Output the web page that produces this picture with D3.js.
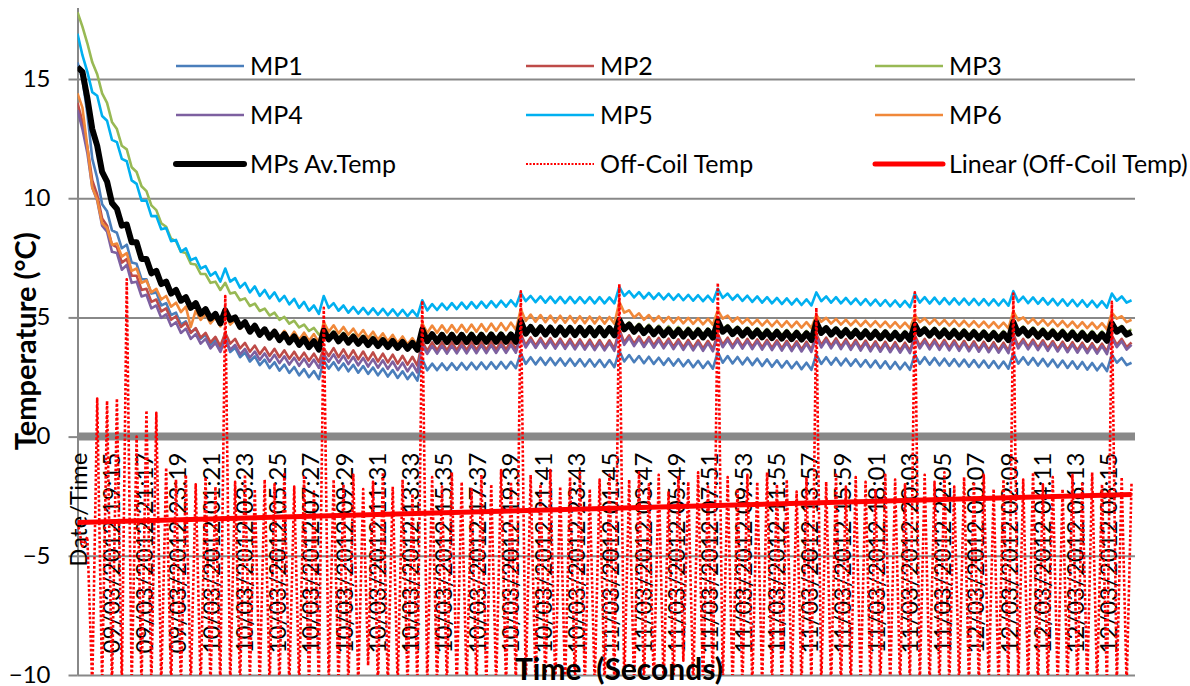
<!DOCTYPE html>
<html>
<head>
<meta charset="utf-8">
<script src="https://cdn.jsdelivr.net/npm/d3@7"></script>
<style>
body { margin: 0; background: #fff; }
text { font-family: Lato, "Noto Sans", sans-serif; fill: #000; }
</style>
</head>
<body>
<div id="chart"></div>
<script>
// category labels on the time axis
const xLabels = ["Date/Time",
  "09/03/2012 19:15", "09/03/2012 21:17", "09/03/2012 23:19", "10/03/2012 01:21", "10/03/2012 03:23",
  "10/03/2012 05:25", "10/03/2012 07:27", "10/03/2012 09:29", "10/03/2012 11:31", "10/03/2012 13:33",
  "10/03/2012 15:35", "10/03/2012 17:37", "10/03/2012 19:39", "10/03/2012 21:41", "10/03/2012 23:43",
  "11/03/2012 01:45", "11/03/2012 03:47", "11/03/2012 05:49", "11/03/2012 07:51", "11/03/2012 09:53",
  "11/03/2012 11:55", "11/03/2012 13:57", "11/03/2012 15:59", "11/03/2012 18:01", "11/03/2012 20:03",
  "11/03/2012 22:05", "12/03/2012 00:07", "12/03/2012 02:09", "12/03/2012 04:11", "12/03/2012 06:13",
  "12/03/2012 08:15"];
const labelEvery = 6.75; // samples between two category labels
const yTicks = [-10, -5, 0, 5, 10, 15];
const yMin = -10, yMax = 18;

const mp1 = [15.7, 15.0, 13.55, 11.65, 10.85, 9.75, 9.45, 8.65, 8.55, 7.9,
  8.05, 7.3, 7.25, 6.6, 6.6, 6.0, 6.05, 5.5, 5.6, 5.1, 5.2, 4.7, 4.83, 4.37, 4.53, 4.1, 4.27, 3.85, 4.05, 3.65,
  4.1, 3.55, 3.73, 3.33, 3.53, 3.15, 3.37, 3.0, 3.23, 2.87, 3.12, 2.77, 3.02, 2.67, 2.92, 2.57, 2.83, 2.49, 2.75, 2.41,
  3.2, 2.85, 3.12, 2.79, 3.07, 2.74, 3.01, 2.68, 2.96, 2.63, 2.9, 2.57, 2.85, 2.52, 2.79, 2.46, 2.74, 2.41, 2.68, 2.35,
  3.25, 2.78, 3.06, 2.79, 3.07, 2.8, 3.08, 2.81, 3.09, 2.82, 3.1, 2.83, 3.11, 2.84, 3.12, 2.85, 3.13, 2.86, 3.14, 2.87,
  3.5, 3.05, 3.33, 3.03, 3.31, 3.01, 3.3, 3.0, 3.28, 2.98, 3.27, 2.97, 3.25, 2.95, 3.24, 2.94, 3.22, 2.92, 3.21, 2.91,
  3.6, 3.15, 3.42, 3.12, 3.38, 3.08, 3.35, 3.05, 3.31, 3.01, 3.28, 2.98, 3.25, 2.95, 3.21, 2.91, 3.18, 2.88, 3.15, 2.85,
  3.55, 3.1, 3.38, 3.07, 3.34, 3.03, 3.31, 3.0, 3.27, 2.96, 3.24, 2.93, 3.2, 2.9, 3.17, 2.87, 3.13, 2.83, 3.1, 2.8,
  3.45, 3.05, 3.33, 3.02, 3.3, 2.99, 3.27, 2.97, 3.24, 2.94, 3.21, 2.91, 3.19, 2.88, 3.16, 2.85, 3.13, 2.83, 3.1, 2.8,
  3.45, 3.05, 3.33, 3.02, 3.3, 2.99, 3.27, 2.97, 3.25, 2.95, 3.23, 2.93, 3.21, 2.91, 3.19, 2.89, 3.17, 2.87, 3.15, 2.85,
  3.5, 3.06, 3.33, 3.02, 3.3, 2.98, 3.26, 2.95, 3.23, 2.91, 3.19, 2.88, 3.16, 2.85, 3.13, 2.81, 3.09, 2.78, 3.06, 2.75,
  3.45, 3.1, 3.3, 3.0, 3.1];

const mp2 = [14.0, 13.2, 12.15, 10.75, 10.15, 9.15, 8.85, 8.05, 7.95, 7.3,
  7.45, 6.75, 6.75, 6.15, 6.2, 5.65, 5.75, 5.25, 5.38, 4.9, 5.05, 4.6, 4.78, 4.35, 4.55, 4.15, 4.35, 3.95, 4.18, 3.8,
  4.35, 3.9, 4.1, 3.7, 3.93, 3.56, 3.82, 3.46, 3.74, 3.39, 3.68, 3.33, 3.62, 3.27, 3.56, 3.22, 3.52, 3.18, 3.48, 3.13,
  3.7, 3.38, 3.71, 3.33, 3.66, 3.29, 3.62, 3.24, 3.57, 3.2, 3.53, 3.15, 3.48, 3.11, 3.44, 3.06, 3.39, 3.02, 3.35, 2.98,
  4.0, 3.6, 3.95, 3.62, 3.96, 3.62, 3.97, 3.63, 3.97, 3.63, 3.98, 3.64, 3.98, 3.64, 3.99, 3.65, 3.99, 3.65, 4.0, 3.66,
  4.3, 3.83, 4.16, 3.81, 4.14, 3.8, 4.13, 3.78, 4.11, 3.77, 4.1, 3.75, 4.08, 3.74, 4.07, 3.72, 4.05, 3.71, 4.04, 3.69,
  4.5, 3.95, 4.25, 3.9, 4.2, 3.86, 4.17, 3.83, 4.14, 3.8, 4.11, 3.77, 4.08, 3.74, 4.06, 3.72, 4.04, 3.7, 4.02, 3.68,
  4.3, 3.85, 4.15, 3.8, 4.12, 3.78, 4.1, 3.76, 4.08, 3.74, 4.06, 3.72, 4.04, 3.7, 4.02, 3.68, 4.0, 3.66, 3.98, 3.64,
  4.3, 3.84, 4.15, 3.8, 4.12, 3.77, 4.09, 3.74, 4.06, 3.71, 4.03, 3.68, 4.0, 3.66, 3.98, 3.64, 3.96, 3.62, 3.94, 3.6,
  4.25, 3.8, 4.1, 3.76, 4.08, 3.74, 4.06, 3.72, 4.04, 3.7, 4.02, 3.68, 4.0, 3.66, 3.98, 3.64, 3.96, 3.62, 3.94, 3.6,
  4.3, 3.8, 4.1, 3.76, 4.07, 3.73, 4.04, 3.7, 4.01, 3.67, 3.98, 3.64, 3.96, 3.62, 3.94, 3.6, 3.92, 3.58, 3.9, 3.56,
  4.25, 3.85, 4.1, 3.75, 3.95];

const mp3 = [17.8, 17.2, 16.5, 15.7, 15.2, 14.4, 14.0, 13.2, 12.9, 12.2,
  12.05, 11.3, 11.1, 10.5, 10.3, 9.7, 9.5, 8.95, 8.8, 8.3, 8.2, 7.75, 7.7, 7.25, 7.22, 6.82, 6.82, 6.45, 6.5, 6.15,
  6.45, 6.0, 6.05, 5.72, 5.8, 5.48, 5.58, 5.27, 5.37, 5.08, 5.2, 4.9, 5.02, 4.74, 4.86, 4.58, 4.7, 4.43, 4.56, 4.28,
  4.4, 4.2, 4.42, 4.14, 4.36, 4.08, 4.3, 4.02, 4.24, 3.97, 4.19, 3.92, 4.14, 3.87, 4.09, 3.82, 4.04, 3.77, 3.99, 3.73,
  4.55, 4.12, 4.34, 4.1, 4.35, 4.09, 4.36, 4.1, 4.35, 4.11, 4.37, 4.1, 4.36, 4.11, 4.37, 4.12, 4.38, 4.12, 4.38, 4.12,
  4.9, 4.45, 4.68, 4.43, 4.67, 4.42, 4.66, 4.41, 4.66, 4.41, 4.65, 4.4, 4.65, 4.4, 4.64, 4.39, 4.64, 4.39, 4.63, 4.38,
  4.95, 4.6, 4.8, 4.52, 4.74, 4.47, 4.7, 4.43, 4.66, 4.39, 4.63, 4.36, 4.6, 4.33, 4.58, 4.31, 4.56, 4.29, 4.54, 4.27,
  4.9, 4.5, 4.68, 4.42, 4.62, 4.37, 4.58, 4.33, 4.55, 4.3, 4.52, 4.27, 4.5, 4.25, 4.48, 4.23, 4.46, 4.21, 4.44, 4.19,
  4.85, 4.45, 4.63, 4.38, 4.59, 4.34, 4.56, 4.31, 4.53, 4.28, 4.51, 4.26, 4.49, 4.24, 4.47, 4.22, 4.45, 4.2, 4.43, 4.18,
  4.8, 4.4, 4.6, 4.35, 4.57, 4.32, 4.55, 4.3, 4.53, 4.28, 4.51, 4.26, 4.49, 4.24, 4.47, 4.22, 4.45, 4.2, 4.43, 4.18,
  4.85, 4.42, 4.62, 4.36, 4.58, 4.32, 4.55, 4.29, 4.52, 4.26, 4.5, 4.24, 4.48, 4.22, 4.46, 4.2, 4.44, 4.18, 4.42, 4.16,
  4.8, 4.5, 4.65, 4.38, 4.5];

const mp4 = [13.7, 12.9, 11.9, 10.45, 9.9, 8.85, 8.6, 7.75, 7.7, 7.0,
  7.2, 6.45, 6.5, 5.88, 5.95, 5.38, 5.5, 4.98, 5.13, 4.64, 4.8, 4.35, 4.53, 4.1, 4.3, 3.9, 4.1, 3.7, 3.93, 3.55,
  4.1, 3.65, 3.85, 3.45, 3.68, 3.31, 3.57, 3.22, 3.49, 3.14, 3.43, 3.08, 3.37, 3.02, 3.31, 2.97, 3.27, 2.93, 3.23, 2.88,
  3.45, 3.14, 3.45, 3.09, 3.4, 3.04, 3.35, 2.99, 3.3, 2.94, 3.25, 2.89, 3.2, 2.84, 3.15, 2.79, 3.1, 2.74, 3.05, 2.69,
  3.85, 3.47, 3.8, 3.48, 3.81, 3.48, 3.81, 3.49, 3.82, 3.49, 3.82, 3.5, 3.83, 3.5, 3.83, 3.51, 3.84, 3.51, 3.84, 3.52,
  4.2, 3.74, 4.05, 3.72, 4.04, 3.71, 4.02, 3.69, 4.01, 3.68, 3.99, 3.66, 3.98, 3.65, 3.96, 3.63, 3.95, 3.62, 3.93, 3.6,
  4.4, 3.85, 4.15, 3.8, 4.1, 3.76, 4.07, 3.73, 4.04, 3.7, 4.01, 3.67, 3.98, 3.64, 3.96, 3.62, 3.94, 3.6, 3.92, 3.58,
  4.2, 3.75, 4.05, 3.71, 4.03, 3.69, 4.01, 3.67, 3.99, 3.65, 3.97, 3.63, 3.95, 3.61, 3.93, 3.59, 3.91, 3.57, 3.89, 3.55,
  4.2, 3.74, 4.05, 3.7, 4.02, 3.67, 3.99, 3.64, 3.96, 3.61, 3.93, 3.58, 3.9, 3.56, 3.88, 3.54, 3.86, 3.52, 3.84, 3.5,
  4.15, 3.7, 4.0, 3.66, 3.98, 3.64, 3.96, 3.62, 3.94, 3.6, 3.92, 3.58, 3.9, 3.56, 3.88, 3.54, 3.86, 3.52, 3.84, 3.5,
  4.2, 3.7, 4.0, 3.66, 3.97, 3.63, 3.94, 3.6, 3.91, 3.57, 3.88, 3.54, 3.86, 3.52, 3.84, 3.5, 3.82, 3.48, 3.8, 3.46,
  4.15, 3.75, 4.0, 3.65, 3.85];

const mp5 = [16.9, 16.0, 15.3, 14.45, 14.3, 13.45, 13.25, 12.45, 12.35, 11.65,
  11.55, 10.75, 10.6, 9.9, 9.9, 9.25, 9.25, 8.7, 8.75, 8.2, 8.25, 7.75, 7.9, 7.4, 7.5, 7.05, 7.15, 6.75, 6.9, 6.5,
  7.05, 6.5, 6.65, 6.25, 6.45, 6.05, 6.3, 5.9, 6.15, 5.8, 6.05, 5.68, 5.9, 5.55, 5.78, 5.4, 5.65, 5.28, 5.5, 5.15,
  5.9, 5.4, 5.6, 5.28, 5.5, 5.2, 5.44, 5.16, 5.4, 5.13, 5.38, 5.11, 5.36, 5.09, 5.34, 5.07, 5.32, 5.05, 5.3, 5.04,
  5.72, 5.29, 5.56, 5.31, 5.58, 5.33, 5.6, 5.35, 5.62, 5.37, 5.64, 5.39, 5.66, 5.41, 5.68, 5.43, 5.7, 5.45, 5.72, 5.47,
  6.03, 5.68, 5.9, 5.64, 5.88, 5.62, 5.87, 5.61, 5.86, 5.6, 5.86, 5.6, 5.85, 5.6, 5.85, 5.59, 5.85, 5.59, 5.84, 5.59,
  6.28, 5.9, 6.1, 5.84, 6.06, 5.8, 6.03, 5.78, 6.01, 5.76, 5.99, 5.74, 5.97, 5.72, 5.95, 5.7, 5.93, 5.68, 5.91, 5.66,
  6.2, 5.82, 6.0, 5.74, 5.95, 5.69, 5.91, 5.65, 5.88, 5.62, 5.85, 5.59, 5.82, 5.56, 5.8, 5.54, 5.78, 5.52, 5.76, 5.5,
  6.05, 5.68, 5.88, 5.62, 5.85, 5.59, 5.82, 5.56, 5.79, 5.53, 5.77, 5.51, 5.75, 5.49, 5.73, 5.47, 5.71, 5.45, 5.69, 5.43,
  6.0, 5.62, 5.85, 5.58, 5.83, 5.56, 5.81, 5.55, 5.8, 5.54, 5.79, 5.53, 5.78, 5.52, 5.77, 5.51, 5.76, 5.5, 5.75, 5.49,
  6.1, 5.65, 5.87, 5.6, 5.84, 5.57, 5.81, 5.54, 5.78, 5.51, 5.76, 5.49, 5.74, 5.47, 5.72, 5.45, 5.7, 5.43, 5.68, 5.41,
  6.0, 5.7, 5.88, 5.62, 5.72];

const mp6 = [14.4, 13.8, 12.15, 10.45, 9.95, 8.95, 8.75, 8.05, 8.1, 7.55,
  7.7, 6.95, 7.05, 6.45, 6.55, 6.05, 6.2, 5.75, 5.9, 5.45, 5.62, 5.22, 5.45, 4.6, 5.28, 4.9, 5.14, 4.75, 5.0, 4.62,
  5.15, 4.7, 4.9, 4.52, 4.76, 4.38, 4.62, 4.27, 4.54, 4.2, 4.48, 4.15, 4.44, 4.1, 4.4, 4.06, 4.36, 4.02, 4.3, 3.95,
  4.8, 4.4, 4.67, 4.33, 4.6, 4.27, 4.53, 4.2, 4.47, 4.13, 4.4, 4.07, 4.33, 4.0, 4.27, 3.93, 4.2, 3.87, 4.13, 3.8,
  4.75, 4.35, 4.66, 4.36, 4.67, 4.37, 4.68, 4.38, 4.69, 4.39, 4.7, 4.4, 4.72, 4.42, 4.74, 4.44, 4.76, 4.46, 4.78, 4.48,
  5.35, 4.85, 5.12, 4.82, 5.1, 4.8, 5.08, 4.79, 5.07, 4.78, 5.06, 4.77, 5.05, 4.76, 5.04, 4.75, 5.03, 4.74, 5.02, 4.73,
  5.65, 5.2, 5.3, 5.0, 5.17, 4.9, 5.1, 4.84, 5.05, 4.8, 5.02, 4.77, 5.0, 4.75, 4.98, 4.73, 4.96, 4.71, 4.94, 4.69,
  5.3, 4.95, 5.08, 4.82, 5.0, 4.75, 4.95, 4.7, 4.91, 4.66, 4.88, 4.63, 4.86, 4.61, 4.84, 4.59, 4.82, 4.57, 4.8, 4.55,
  5.1, 4.82, 4.98, 4.74, 4.94, 4.7, 4.91, 4.67, 4.88, 4.64, 4.86, 4.62, 4.84, 4.6, 4.82, 4.58, 4.8, 4.56, 4.78, 4.54,
  5.1, 4.8, 4.96, 4.72, 4.93, 4.69, 4.9, 4.66, 4.88, 4.64, 4.86, 4.62, 4.84, 4.6, 4.82, 4.58, 4.8, 4.56, 4.78, 4.54,
  5.25, 4.88, 5.0, 4.75, 4.95, 4.7, 4.91, 4.66, 4.88, 4.63, 4.85, 4.6, 4.82, 4.57, 4.8, 4.55, 4.78, 4.53, 4.76, 4.5,
  5.2, 4.95, 5.05, 4.8, 4.9];

const mpAvg = [15.5, 15.3, 14.2, 12.9, 12.2, 11.1, 10.7, 9.8, 9.55, 8.85,
  8.9, 8.15, 8.15, 7.45, 7.45, 6.85, 6.95, 6.4, 6.5, 6.0, 6.15, 5.7, 5.85, 5.4, 5.6, 5.15, 5.35, 4.95, 5.15, 4.75,
  5.3, 4.9, 5.0, 4.6, 4.8, 4.4, 4.65, 4.27, 4.5, 4.15, 4.4, 4.05, 4.3, 3.95, 4.2, 3.85, 4.1, 3.75, 4.0, 3.65,
  4.45, 4.08, 4.32, 4.0, 4.25, 3.94, 4.19, 3.89, 4.14, 3.84, 4.09, 3.8, 4.05, 3.76, 4.01, 3.72, 3.97, 3.68, 3.93, 3.64,
  4.5, 4.0, 4.3, 3.98, 4.27, 3.97, 4.27, 3.97, 4.27, 3.97, 4.27, 3.97, 4.27, 3.98, 4.28, 3.98, 4.28, 3.98, 4.28, 3.98,
  4.85, 4.32, 4.6, 4.3, 4.58, 4.28, 4.57, 4.27, 4.57, 4.27, 4.56, 4.26, 4.56, 4.26, 4.55, 4.25, 4.55, 4.25, 4.55, 4.25,
  4.9, 4.5, 4.7, 4.4, 4.63, 4.34, 4.58, 4.29, 4.54, 4.25, 4.5, 4.22, 4.48, 4.2, 4.46, 4.18, 4.45, 4.16, 4.44, 4.15,
  4.85, 4.4, 4.58, 4.3, 4.52, 4.24, 4.48, 4.2, 4.44, 4.16, 4.41, 4.13, 4.39, 4.11, 4.37, 4.09, 4.35, 4.07, 4.33, 4.05,
  4.8, 4.35, 4.55, 4.28, 4.5, 4.23, 4.46, 4.19, 4.43, 4.16, 4.41, 4.14, 4.39, 4.12, 4.37, 4.1, 4.35, 4.08, 4.33, 4.06,
  4.7, 4.3, 4.5, 4.24, 4.47, 4.2, 4.44, 4.17, 4.42, 4.15, 4.4, 4.13, 4.38, 4.11, 4.36, 4.09, 4.34, 4.07, 4.32, 4.05,
  4.8, 4.32, 4.52, 4.24, 4.47, 4.19, 4.43, 4.16, 4.4, 4.13, 4.38, 4.1, 4.36, 4.08, 4.34, 4.06, 4.32, 4.04, 4.3, 4.02,
  4.75, 4.4, 4.55, 4.28, 4.38];

const offCoil = [-3.6, -4.6, -4.2, -10.5, 1.6, -10.5, 1.5, -10.5, 1.6, -10.5,
  6.6, -10.5, 0.0, -10.5, 1.1, -10.5, 1.0, -10.5, -1.3, -10.5, -1.8, -10.5, -1.6, -10.5, -2.0, -10.5, -1.7, -10.5, -2.1, -10.5,
  5.9, -10.5, -1.9, -10.5, -1.6, -10.2, -2.2, -10.5, -1.8, -10.5, -2.0, -10.5, -1.5, -10.5, -2.1, -10.5, -1.7, -10.5, -2.3, -10.5,
  5.4, -10.5, -1.8, -10.5, -2.0, -10.5, -1.6, -10.5, -2.2, -9.6, -1.9, -10.5, -1.5, -10.5, -2.1, -10.5, -1.8, -10.5, -2.4, -10.5,
  5.7, -10.5, -1.7, -10.5, -2.1, -10.5, -1.5, -10.5, -1.9, -10.5, -2.2, -10.5, -1.6, -10.5, -2.0, -10.5, -1.4, -10.5, -1.9, -10.5,
  6.1, -10.5, -1.6, -10.5, -2.0, -10.5, -1.4, -10.5, -2.1, -10.5, -1.7, -10.5, -1.5, -10.5, -2.2, -10.5, -1.8, -10.5, -1.6, -10.5,
  6.4, -10.5, -1.8, -10.5, -1.5, -10.5, -2.0, -10.5, -1.6, -10.5, -2.3, -10.5, -1.7, -9.4, -1.9, -10.5, -1.5, -10.5, -2.1, -10.5,
  6.45, -10.5, -1.7, -10.5, -2.2, -10.5, -1.6, -10.5, -1.9, -10.5, -1.5, -10.5, -2.0, -10.5, -1.8, -10.5, -2.3, -10.5, -1.7, -10.5,
  5.4, -10.5, -1.9, -10.5, -1.6, -10.5, -2.1, -10.5, -1.7, -10.5, -1.9, -10.5, -2.2, -10.5, -1.6, -10.5, -1.8, -10.5, -2.0, -10.5,
  6.05, -10.5, -1.6, -10.5, -1.9, -10.5, -1.5, -10.5, -2.1, -10.5, -1.7, -10.5, -1.9, -10.5, -1.6, -10.5, -2.2, -10.5, -1.8, -10.5,
  6.0, -10.5, -1.8, -10.5, -1.5, -10.5, -2.0, -10.5, -1.7, -10.5, -2.2, -10.5, -1.6, -10.5, -1.9, -10.5, -1.5, -10.5, -2.0, -10.5,
  5.65, -10.5, -1.7, -10.5, -1.9];

// linear trend of the off-coil temperature: value at first and last sample
const offCoilTrend = [-3.6, -2.43];

const series = [
  {name: "MP1", values: mp1, color: "#4A7EBB", width: 2.6},
  {name: "MP2", values: mp2, color: "#BE4B48", width: 2.6},
  {name: "MP3", values: mp3, color: "#98B954", width: 2.6},
  {name: "MP4", values: mp4, color: "#7D60A0", width: 2.6},
  {name: "MP5", values: mp5, color: "#00B0F0", width: 2.6},
  {name: "MP6", values: mp6, color: "#F0883A", width: 2.6},
  {name: "MPs Av.Temp", values: mpAvg, color: "#000000", width: 6},
  {name: "Off-Coil Temp", values: offCoil, color: "#FF0000", width: 2.6, dash: "2.6,2"}
];

const width = 1190, height = 686;
const plot = {left: 77.5, right: 1135, top: 7.5, bottom: 675};
const nSamples = mp1.length;

const x = d3.scaleLinear().domain([0, 214.7]).range([plot.left, plot.right]);
const y = d3.scaleLinear().domain([yMin, yMax]).range([plot.bottom, plot.top]);

const svg = d3.select("#chart").append("svg")
  .attr("width", width).attr("height", height);

svg.append("defs").append("clipPath").attr("id", "plot-clip")
  .append("rect")
  .attr("x", plot.left).attr("y", plot.top)
  .attr("width", plot.right - plot.left).attr("height", plot.bottom - plot.top);

// horizontal gridlines
svg.append("g")
  .attr("transform", `translate(${plot.left},0)`)
  .call(d3.axisLeft(y).tickValues(yTicks.filter(d => d !== 0))
    .tickSize(-(plot.right - plot.left)).tickFormat(""))
  .call(g => g.select(".domain").remove())
  .call(g => g.selectAll("line").attr("stroke", "#888888").attr("stroke-width", 2));

// y axis with labels
svg.append("g")
  .attr("transform", `translate(${plot.left},0)`)
  .call(d3.axisLeft(y).tickValues(yTicks).tickSize(9).tickPadding(18).tickSizeOuter(0))
  .call(g => g.select(".domain").attr("stroke", "#888888").attr("stroke-width", 2))
  .call(g => g.selectAll("line").attr("stroke", "#888888").attr("stroke-width", 2))
  .call(g => g.selectAll("text").attr("dy", "0.3em").style("font-size", "24px").attr("fill", "#000"));

// category axis at zero
const xAxis = svg.append("g")
  .attr("transform", `translate(0,${y(0)})`)
  .call(d3.axisBottom(x).tickValues(xLabels.map((d, i) => i * labelEvery))
    .tickSize(0).tickFormat((d, i) => xLabels[i]));
xAxis.select(".domain").remove();
xAxis.selectAll("text")
  .attr("transform", "rotate(-90)")
  .attr("x", -16).attr("y", 0).attr("dy", "0.36em")
  .style("text-anchor", "end").style("font-size", "24px").attr("fill", "#000");

svg.append("line")
  .attr("x1", plot.left).attr("x2", plot.right)
  .attr("y1", y(0)).attr("y2", y(0))
  .attr("stroke", "#898989").attr("stroke-width", 8);

// data lines
const line = d3.line().x((d, i) => x(i)).y(d => y(d));
const lines = svg.append("g").attr("clip-path", "url(#plot-clip)");
series.forEach(s => {
  lines.append("path")
    .datum(s.values)
    .attr("fill", "none")
    .attr("stroke", s.color)
    .attr("stroke-width", s.width)
    .attr("stroke-linejoin", "round")
    .attr("stroke-dasharray", s.dash || null)
    .attr("d", line);
});
lines.append("line")
  .attr("x1", x(0)).attr("x2", x(nSamples - 1))
  .attr("y1", y(offCoilTrend[0])).attr("y2", y(offCoilTrend[1]))
  .attr("stroke", "#FF0000").attr("stroke-width", 5);

// legend
const legendItems = series.concat([{name: "Linear (Off-Coil Temp)", color: "#FF0000", width: 5}]);
const legendCols = [176, 526, 875], legendRows = [66, 115, 164];
const legend = svg.append("g");
legendItems.forEach((s, i) => {
  const lx = legendCols[i % 3], ly = legendRows[Math.floor(i / 3)];
  legend.append("line")
    .attr("x1", lx).attr("x2", lx + 68).attr("y1", ly).attr("y2", ly)
    .attr("stroke", s.color).attr("stroke-width", s.dash ? 2 : s.width)
    .attr("stroke-linecap", s.width > 4 ? "round" : "butt")
    .attr("stroke-dasharray", s.dash ? "2,1.5" : null);
  legend.append("text")
    .attr("x", lx + 74).attr("y", ly).attr("dy", "0.35em")
    .style("font-size", "25px").text(s.name);
});

// axis titles
svg.append("text")
  .attr("transform", `translate(36,${(plot.top + plot.bottom) / 2}) rotate(-90)`)
  .attr("text-anchor", "middle")
  .style("font-size", "29px").style("font-weight", "bold")
  .text("Temperature (°C)");

svg.append("text")
  .attr("x", 619).attr("y", 680)
  .attr("text-anchor", "middle")
  .style("font-size", "30px").style("font-weight", "bold").style("white-space", "pre")
  .text("Time  (Seconds)");
</script>
</body>
</html>
